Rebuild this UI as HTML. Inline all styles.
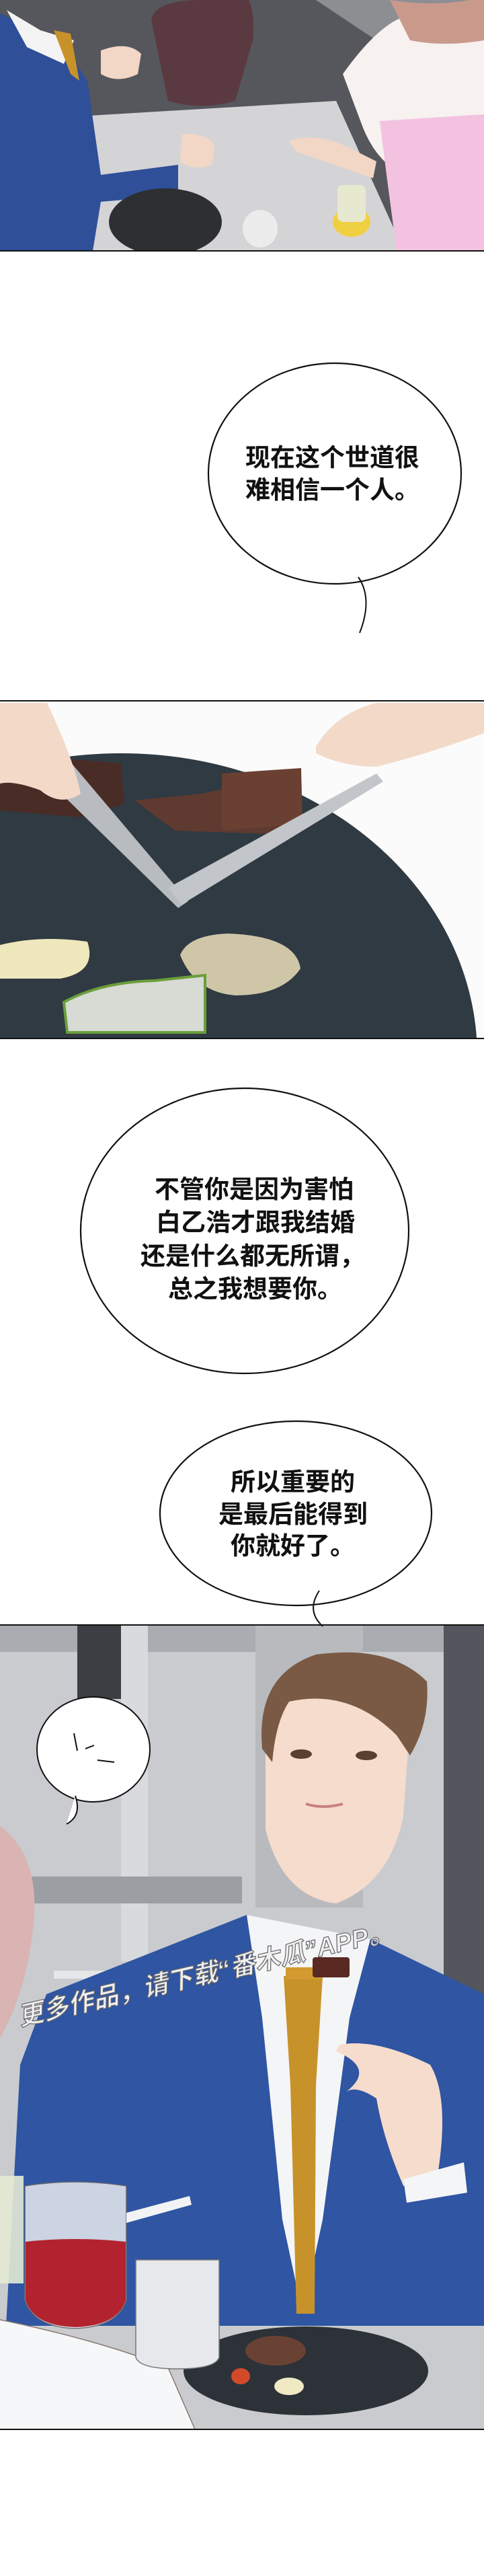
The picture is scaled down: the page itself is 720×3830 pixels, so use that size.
<!DOCTYPE html>
<html><head><meta charset="utf-8"><style>
html,body{margin:0;padding:0;background:#fff;}
svg{display:block;}
text{font-family:"Liberation Sans","Noto Sans CJK SC",sans-serif;font-weight:bold;fill:#111;}
</style></head><body>
<svg width="720" height="3830" viewBox="0 0 720 3830" xmlns="http://www.w3.org/2000/svg">
<defs>
<clipPath id="p1"><rect x="0" y="0" width="720" height="373"/></clipPath>
<clipPath id="p2"><rect x="0" y="1042" width="720" height="502"/></clipPath>
<clipPath id="p3"><rect x="0" y="2416" width="720" height="1196"/></clipPath>
</defs>
<rect width="720" height="3830" fill="#fff"/>

<!-- PANEL 1 -->
<g clip-path="url(#p1)">
<rect x="0" y="0" width="720" height="373" fill="#55575c"/>
<polygon points="380,0 720,0 720,110 560,60 470,0" fill="#8c8e92"/>
<path d="M225,30 Q230,0 300,0 L370,0 Q380,20 376,60 L350,150 Q300,165 250,150 Z" fill="#5a3a40"/>
<polygon points="133,172 500,150 601,373 138,373" fill="#d4d4d6"/>
<polygon points="0,20 90,60 130,120 150,260 265,245 265,290 150,300 138,373 0,373" fill="#2f4f98"/>
<polygon points="10,15 60,45 110,60 95,95 40,70" fill="#f3f3f3"/>
<polygon points="80,45 105,50 118,120 105,110" fill="#c8922a"/>
<path d="M150,75 Q190,60 210,80 L205,110 Q175,125 150,110 Z" fill="#f2d6c6"/>
<path d="M270,200 Q300,195 320,215 L315,245 Q285,255 268,240 Z" fill="#f2d6c6"/>
<path d="M510,110 Q560,40 600,25 L720,20 L720,260 L600,260 Q560,240 540,190 Z" fill="#f7f1f0"/>
<polygon points="565,180 720,170 720,373 590,373 575,260" fill="#f3c2e0"/>
<path d="M430,210 Q470,195 520,220 L560,240 L555,265 L440,225 Z" fill="#f2d6c6"/>
<path d="M580,0 Q640,10 700,0 L720,0 L720,60 Q660,70 610,60 Z" fill="#c99a8c"/>
<ellipse cx="246" cy="330" rx="84" ry="50" fill="#2e2f33"/>
<ellipse cx="387" cy="340" rx="26" ry="28" fill="#eeeeef" opacity=".9"/>
<ellipse cx="523" cy="330" rx="28" ry="22" fill="#f0d040"/>
<rect x="502" y="275" width="42" height="55" rx="8" fill="#e6e8d0"/>
</g>
<line x1="0" y1="373" x2="720" y2="373" stroke="#111" stroke-width="2"/>

<!-- BUBBLE 1 -->
<ellipse cx="498" cy="704" rx="188" ry="164" fill="#fff" stroke="#111" stroke-width="2.2"/>
<path d="M533,858 Q555,890 535,941" fill="none" stroke="#111" stroke-width="2"/>
<text x="365" y="693" font-size="37">现在这个世道很</text>
<text x="365" y="741" font-size="37">难相信一个人。</text>

<!-- PANEL 2 -->
<g clip-path="url(#p2)">
<rect x="0" y="1042" width="720" height="502" fill="#fbfbfb"/>
<ellipse cx="180" cy="1570" rx="530" ry="450" fill="#2f3a42"/>
<polygon points="0,1120 180,1135 185,1195 120,1215 0,1205" fill="#4a2c26"/>
<polygon points="200,1190 300,1180 440,1150 450,1215 400,1240 260,1235" fill="#5e3a30"/>
<polygon points="330,1150 448,1142 450,1225 330,1235" fill="#6a4033"/>
<path d="M268,1420 Q280,1390 340,1388 Q440,1392 447,1440 Q420,1480 350,1480 Q290,1475 268,1420 Z" fill="#cfc6a8"/>
<path d="M0,1405 Q60,1390 130,1400 Q145,1445 90,1455 L0,1455 Z" fill="#efe8bc"/>
<path d="M95,1490 Q150,1460 230,1458 L305,1450 L305,1535 L100,1535 Z" fill="#d8dad4" stroke="#6a9e3a" stroke-width="4"/>
<polygon points="20,1060 60,1080 280,1340 265,1350 40,1130" fill="#b8bcc0"/>
<polygon points="250,1320 560,1150 570,1162 270,1345" fill="#c2c6ca"/>
<path d="M0,1045 L70,1045 Q110,1130 120,1180 Q90,1200 60,1175 Q20,1160 0,1165 Z" fill="#f3dac8"/>
<path d="M470,1110 Q500,1060 560,1045 L720,1045 L720,1090 Q640,1120 560,1140 Q510,1140 470,1120 Z" fill="#f3dac8"/>
</g>
<line x1="0" y1="1042" x2="720" y2="1042" stroke="#111" stroke-width="2"/>
<line x1="0" y1="1544" x2="720" y2="1544" stroke="#111" stroke-width="2"/>

<!-- BUBBLE 2 -->
<ellipse cx="364" cy="1830" rx="244" ry="212" fill="#fff" stroke="#111" stroke-width="2.2"/>
<text x="230" y="1781" font-size="37">不管你是因为害怕</text>
<text x="232" y="1830" font-size="37">白乙浩才跟我结婚</text>
<text x="209" y="1880" font-size="37">还是什么都无所谓，</text>
<text x="250" y="1929" font-size="37">总之我想要你。</text>

<!-- BUBBLE 3 -->
<ellipse cx="440" cy="2250" rx="202" ry="137" fill="#fff" stroke="#111" stroke-width="2.2"/>
<text x="343" y="2216" font-size="37">所以重要的</text>
<text x="325" y="2264" font-size="37">是最后能得到</text>
<text x="343" y="2311" font-size="37">你就好了。</text>

<!-- PANEL 3 -->
<g clip-path="url(#p3)">
<rect x="0" y="2416" width="720" height="1196" fill="#c9cbcf"/>
<rect x="0" y="2416" width="720" height="40" fill="#a9acb0"/>
<rect x="115" y="2416" width="65" height="110" fill="#3c3e44"/>
<rect x="180" y="2416" width="40" height="500" fill="#d8dadd"/>
<rect x="380" y="2416" width="160" height="420" fill="#b8babe"/>
<rect x="660" y="2416" width="60" height="550" fill="#53565c"/>
<rect x="0" y="2790" width="360" height="40" fill="#9b9ea3"/>
<rect x="80" y="2930" width="140" height="12" fill="#e5e6e8"/>
<path d="M0,2715 Q60,2760 50,2860 Q40,2960 0,3030 Z" fill="#d9b4b2"/>
<polygon points="9,3458 30,3070 69,2965 367,2847 551,2883 720,2965 720,3458" fill="#2f55a3"/>
<polygon points="367,2847 551,2883 520,3000 480,3300 450,3440 420,3300 390,3000" fill="#f4f5f6"/>
<polygon points="422,2938 480,2938 470,3100 468,3440 441,3440 432,3100" fill="#c8922a"/>
<rect x="425" y="2925" width="55" height="18" fill="#d29a30"/>
<path d="M395,2560 Q400,2475 500,2480 Q600,2490 610,2560 L600,2700 Q580,2800 500,2830 Q420,2820 395,2720 Z" fill="#f6dccc"/>
<path d="M390,2600 Q380,2490 470,2460 Q580,2445 635,2500 Q640,2560 610,2610 L590,2580 Q520,2510 430,2530 Q410,2560 405,2620 Z" fill="#7a5a44"/>
<ellipse cx="448" cy="2608" rx="16" ry="7" fill="#5a4030"/>
<ellipse cx="545" cy="2610" rx="16" ry="7" fill="#5a4030"/>
<path d="M455,2682 Q480,2690 510,2682" stroke="#c98080" stroke-width="4" fill="none"/>
<path d="M505,3040 Q560,3030 640,3070 Q670,3120 650,3240 L600,3250 Q570,3180 560,3120 Q530,3100 515,3110 Q560,3075 500,3050 Z" fill="#f6dccc"/>
<rect x="465" y="2910" width="55" height="30" rx="4" fill="#5a2a22"/>
<path d="M600,3240 L690,3215 L695,3260 L605,3275 Z" fill="#f4f5f6"/>
<rect x="0" y="3458" width="720" height="154" fill="#c9cbce"/>
<ellipse cx="455" cy="3525" rx="182" ry="66" fill="#2c3238"/>
<ellipse cx="410" cy="3495" rx="45" ry="22" fill="#6a4233"/>
<ellipse cx="430" cy="3548" rx="22" ry="13" fill="#efeac4"/>
<ellipse cx="358" cy="3533" rx="14" ry="12" fill="#d24a2a"/>
<path d="M0,3449 Q150,3480 250,3520 L290,3612 L0,3612 Z" fill="#f6f7f9"/>
<path d="M0,3449 Q150,3480 250,3520 L290,3612" fill="none" stroke="#8a7a70" stroke-width="1.5"/>
<path d="M37,3250 Q110,3238 188,3250 L188,3420 Q175,3460 112,3462 Q50,3460 37,3420 Z" fill="#e8eaee" opacity=".85" stroke="#666" stroke-width="1.5"/>
<path d="M38,3333 Q110,3325 187,3333 L187,3420 Q175,3458 112,3460 Q50,3458 38,3420 Z" fill="#b3232f"/>
<rect x="0" y="3235" width="35" height="160" fill="#e4ead4" opacity=".9"/>
<path d="M202,3360 L326,3360 L326,3505 Q320,3522 264,3522 Q208,3522 202,3505 Z" fill="#e6e8ec" stroke="#777" stroke-width="1.5"/>
<polygon points="188,3290 282,3265 285,3278 188,3305" fill="#f2f3f5"/>
<ellipse cx="139" cy="2601" rx="84" ry="78" fill="#fff" stroke="#111" stroke-width="2"/>
<path d="M112,2670 Q122,2700 99,2712" fill="#fff" stroke="#111" stroke-width="2"/>
<path d="M110,2577 L115,2603 M127,2600 L140,2595 M145,2617 L170,2620" stroke="#111" stroke-width="2" fill="none"/>
<text x="30" y="3012" font-size="38" transform="rotate(-13 30 3012)" style="fill:#f0f0f2;stroke:#666;stroke-width:1.2;font-style:italic">更多作品，请下载“番木瓜”APP。</text>
</g>
<line x1="0" y1="2416" x2="720" y2="2416" stroke="#111" stroke-width="2"/>
<path d="M475,2365 Q455,2395 480,2418" fill="none" stroke="#111" stroke-width="2"/>
<line x1="0" y1="3612" x2="720" y2="3612" stroke="#111" stroke-width="2"/>
</svg>
</body></html>
